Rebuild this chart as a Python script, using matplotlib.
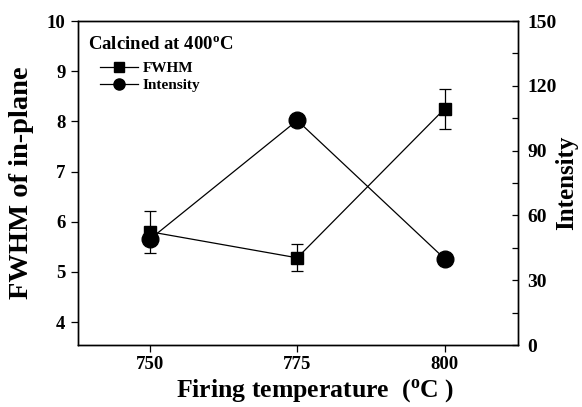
import matplotlib
matplotlib.use("Agg")
import matplotlib.pyplot as plt
from matplotlib.ticker import MultipleLocator
from matplotlib.lines import Line2D

temps = [750, 775, 800]
fwhm = [5.8, 5.28, 8.25]
fwhm_err = [0.42, 0.27, 0.4]
intensity = [49, 104, 40]

left_ticks = [4, 5, 6, 7, 8, 9, 10]
right_ticks = [0, 30, 60, 90, 120, 150]
x_ticks = [750, 775, 800]

plt.rcParams['font.family'] = ['Liberation Serif', 'DejaVu Serif']
plt.rcParams['font.weight'] = 'bold'

fig = plt.figure(figsize=(5.82, 4.07), dpi=100)
ax = fig.add_axes([0.134, 0.152, 0.7555, 0.7964])
ax2 = ax.twinx()

ax.errorbar(temps, fwhm, yerr=fwhm_err, color='black', lw=0.9, marker='s',
            ms=8.6, capsize=4, elinewidth=0.9, capthick=0.9, zorder=3)
ax2.plot(temps, intensity, color='black', lw=0.9, marker='o', ms=12)

ax.set_xlim(737.8, 812.4)
ax.set_ylim(3.54, 10)
ax2.set_ylim(0, 150)
ax.set_xticks(x_ticks)
ax.set_yticks(left_ticks)
ax2.set_yticks(right_ticks)
ax2.yaxis.set_minor_locator(MultipleLocator(15))

for a in (ax, ax2):
    for s in a.spines.values():
        s.set_linewidth(1.0)

ax.tick_params(axis='both', which='major', direction='out', length=5, width=0.9,
               labelsize=13.5, pad=3)
ax.tick_params(axis='y', pad=4)
ax2.tick_params(axis='y', which='major', direction='in', length=4.5, width=0.9,
                labelsize=14, pad=7)
ax2.tick_params(axis='y', which='minor', direction='in', length=4.5, width=0.9)
for lab in ax.get_xticklabels() + ax.get_yticklabels() + ax2.get_yticklabels():
    lab.set_fontweight('bold')

ax.set_xlabel('Firing temperature  ($\\mathregular{^o}$C )', fontsize=18.5, fontweight='bold')
ax.xaxis.set_label_coords(0.54, -0.1)
ax.set_ylabel('FWHM of in-plane', fontsize=20.5, fontweight='bold', labelpad=9)
ax2.set_ylabel('Intensity', fontsize=18, fontweight='bold', labelpad=-1)

ax.text(0.022, 0.955, 'Calcined at 400$\\mathregular{^o}$C', transform=ax.transAxes,
        fontsize=13.5, fontweight='bold', va='top', ha='left')

handles = [Line2D([], [], color='black', lw=0.9, marker='s', ms=6.5),
           Line2D([], [], color='black', lw=0.9, marker='o', ms=8)]
leg = ax.legend(handles, ['FWHM', 'Intensity'], loc='upper left',
                bbox_to_anchor=(0.05, 0.875),
                frameon=False, fontsize=11, handlelength=2.5, handletextpad=0.3,
                labelspacing=0.2, borderpad=0, borderaxespad=0)
for t in leg.get_texts():
    t.set_fontweight('bold')

fig.savefig('out.png', dpi=100)
